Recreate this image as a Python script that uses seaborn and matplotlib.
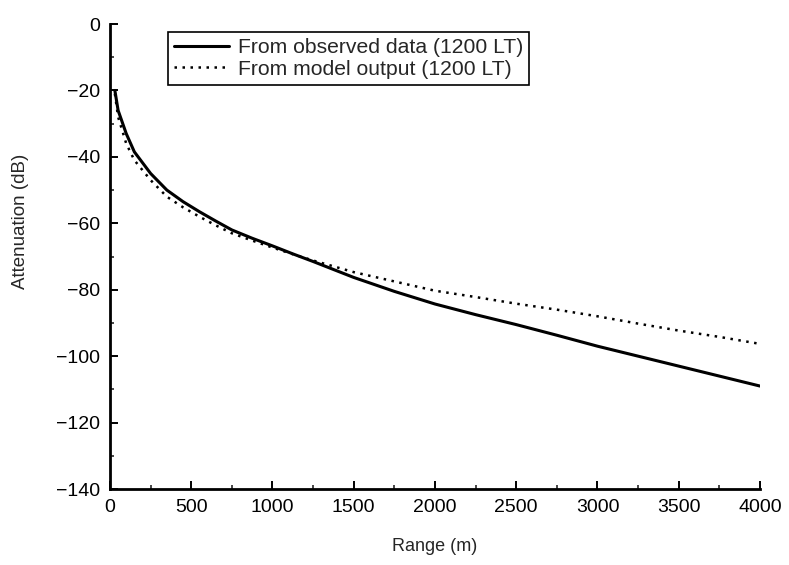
import numpy as np
import pandas as pd
import matplotlib
matplotlib.use('Agg')
import matplotlib.pyplot as plt
from matplotlib.ticker import MultipleLocator
import seaborn as sns

# values
range_m = [30, 50, 100, 150, 250, 350, 450, 550, 650, 750, 875, 1000, 1125, 1250,
           1500, 1750, 2000, 2250, 2500, 2750, 3000, 3250, 3500, 3750, 4000]
observed_db = [-20, -26, -33, -38.5, -45, -50, -53.5, -56.5, -59.3, -62, -64.5, -66.8,
               -69.2, -71.5, -76.3, -80.5, -84.3, -87.5, -90.5, -93.7, -97, -100, -103,
               -106, -109]
model_db = [-21, -28, -36, -41, -47, -52, -55.2, -58, -60.6, -63, -65.2, -67.3,
            -69.3, -71.2, -74.7, -77.5, -80.3, -82.2, -84.2, -86, -88, -90.2, -92.3,
            -94.2, -96.3]

obs_label = 'From observed data (1200 LT)'
mod_label = 'From model output (1200 LT)'

df_obs = pd.DataFrame({'Range (m)': range_m, 'Attenuation (dB)': observed_db})
df_mod = pd.DataFrame({'Range (m)': range_m, 'Attenuation (dB)': model_db})

sns.set_theme(style='ticks')
plt.rcParams['font.family'] = ['Liberation Sans', 'DejaVu Sans']

fig = plt.figure(figsize=(7.89, 5.65), dpi=100)
ax = fig.add_axes([0.1394, 0.1345, 0.8238, 0.823])

sns.lineplot(data=df_obs, x='Range (m)', y='Attenuation (dB)', color='black',
             linewidth=2.2, label=obs_label, ax=ax)
sns.lineplot(data=df_mod, x='Range (m)', y='Attenuation (dB)', color='black',
             linewidth=1.8, dashes=False, linestyle=(0, (1, 2.2)), label=mod_label, ax=ax)

ax.set_xlim(0, 4000)
ax.set_ylim(-140, 0)
ax.xaxis.set_major_locator(MultipleLocator(500))
ax.xaxis.set_minor_locator(MultipleLocator(250))
ax.yaxis.set_major_locator(MultipleLocator(20))
ax.yaxis.set_minor_locator(MultipleLocator(10))
ax.tick_params(which='major', direction='in', length=6, width=1.4, labelsize=14,
               colors='black', pad=7)
ax.tick_params(which='minor', direction='in', length=3, width=1.2)
ax.set_yticks(np.arange(-140, 1, 20))
ax.set_yticklabels([str(v).replace('-', '\u2212') for v in range(-140, 1, 20)])

sns.despine(ax=ax)
for s in ['left', 'bottom']:
    ax.spines[s].set_linewidth(2.0)
    ax.spines[s].set_color('black')

ax.set_xlabel('Range (m)', fontsize=13, labelpad=16)
ax.set_ylabel('Attenuation (dB)', fontsize=13.5)
ax.yaxis.set_label_coords(-0.125, 0.576)

leg = ax.legend(loc='upper left', bbox_to_anchor=(0.089, 0.983), fontsize=15.2,
                frameon=True, fancybox=False, handlelength=2.6, handletextpad=0.4,
                borderpad=0.3, labelspacing=0.12, borderaxespad=0)
leg.get_frame().set_edgecolor('black')
leg.get_frame().set_linewidth(1.2)
leg.get_frame().set_alpha(1)

fig.savefig('out.png', dpi=100)
